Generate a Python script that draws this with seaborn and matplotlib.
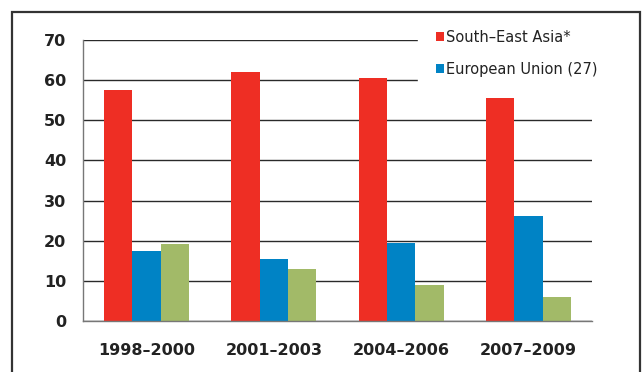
import matplotlib
matplotlib.use("Agg")
import matplotlib.pyplot as plt
import seaborn as sns
import pandas as pd
from matplotlib.patches import Rectangle

periods = ["1998–2000", "2001–2003", "2004–2006", "2007–2009"]
series_names = ["South–East Asia*", "European Union (27)", "Other"]
south_east_asia = [57.5, 62.0, 60.6, 55.5]
european_union = [17.4, 15.5, 19.5, 26.1]
other = [19.1, 13.0, 8.9, 5.9]
y_ticks = [0, 10, 20, 30, 40, 50, 60, 70]

colors = ["#EE2E24", "#0083C5", "#A2BA68"]

rows = []
for name, vals in zip(series_names, [south_east_asia, european_union, other]):
    for p, v in zip(periods, vals):
        rows.append({"period": p, "series": name, "value": v})
df = pd.DataFrame(rows)

sns.set_style("white")
plt.rcParams["font.family"] = ["DejaVu Sans"]

fig = plt.figure(figsize=(6.42, 3.72), dpi=100)
ax = fig.add_axes([83 / 642, 1 - 321 / 372, (592 - 83) / 642, (321 - 40) / 372])

sns.barplot(data=df, x="period", y="value", hue="series", order=periods,
            hue_order=series_names, palette=colors, width=0.667,
            saturation=1, ax=ax, edgecolor="none", linewidth=0)

ax.set_ylim(0, 70)
ax.set_xlim(-0.5, 3.5)
ax.set_yticks(y_ticks)
ax.set_yticklabels([str(t) for t in y_ticks], fontsize=11.5, fontweight="bold", color="#222222")
ax.yaxis.grid(True, color="#2a2a2a", linewidth=1.0)
ax.set_axisbelow(True)
ax.set_xlabel("")
ax.set_ylabel("")

ax.set_xticks(range(len(periods)))
ax.set_xticklabels(periods, fontsize=11.5, fontweight="bold", color="#222222")
ax.set_xticks([-0.5, 0.5, 1.5, 2.5, 3.5], minor=True)
ax.tick_params(axis="x", which="major", length=0, pad=16)
ax.tick_params(axis="x", which="minor", length=4, width=1, color="#666666", direction="out")
ax.tick_params(axis="y", which="major", length=5, width=1, color="#555555", direction="out", pad=7)

for s in ["top", "right"]:
    ax.spines[s].set_visible(False)
for s in ["left", "bottom"]:
    ax.spines[s].set_color("#777777")
    ax.spines[s].set_linewidth(1.0)

handles, labels = ax.get_legend_handles_labels()
leg = ax.legend(handles[:2], labels[:2], loc="upper left",
                bbox_to_anchor=(418 / 642, 1 - 12 / 372), bbox_transform=fig.transFigure,
                frameon=True, fancybox=False, framealpha=1, edgecolor="white",
                facecolor="white", fontsize=10.5, handlelength=0.55, handleheight=0.55,
                handletextpad=0.2, labelspacing=1.2, borderpad=1.2, borderaxespad=0)
for t in leg.get_texts():
    t.set_color("#222222")

fig.patches.append(Rectangle((12 / 642, -0.1), (640 - 12) / 642, 1.1 - 12 / 372,
                             transform=fig.transFigure, fill=False,
                             edgecolor="#333333", linewidth=1.6, zorder=10))

fig.savefig("out.png", dpi=100)
